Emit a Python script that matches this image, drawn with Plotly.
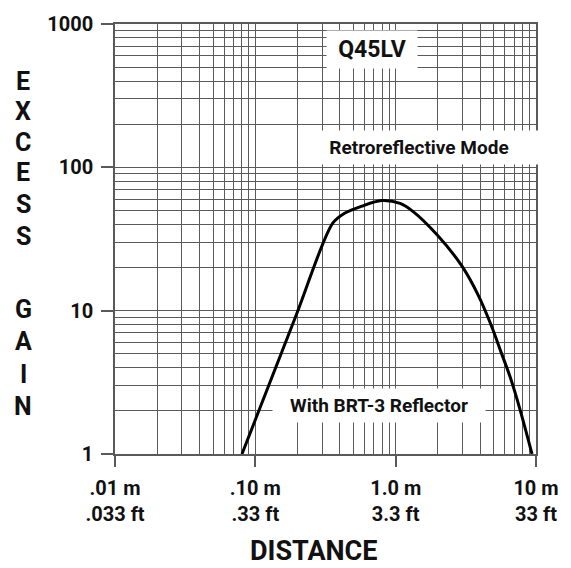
import plotly.graph_objects as go

# Data (distance in m, excess gain)
distance_m = [0.0803, 0.1938, 0.3562, 0.4318, 0.5672, 0.794, 1.076, 1.326,
              1.979, 2.954, 3.88, 4.78, 5.61, 6.58, 7.73, 9.37]
excess_gain = [1.0, 9.1, 40.8, 47.8, 53.4, 58.7, 56.0, 49.3,
               33.7, 20.6, 12.8, 7.97, 5.20, 3.39, 2.01, 1.0]

x_tickvals = [0.01, 0.1, 1, 10]
x_ticktext = [".01 m<br>.033 ft", ".10 m<br>.33 ft", "1.0 m<br>3.3 ft", "10 m<br>33 ft"]
y_tickvals = [1, 10, 100, 1000]
y_ticktext = ["1", "10", "100", "1000"]

x_minor = [m * 10 ** e for e in (-2, -1, 0) for m in range(2, 10)]
y_minor = [m * 10 ** e for e in (0, 1, 2) for m in range(2, 10)]

y_title_letters = ["E", "X", "C", "E", "S", "S", "G", "A", "I", "N"]

FONT = "Roboto, Liberation Sans, sans-serif"
GRID = "#5a5a5a"
TXT = "#111111"

fig = go.Figure()
fig.add_trace(go.Scatter(
    x=distance_m, y=excess_gain, mode="lines",
    line=dict(color="black", width=3, shape="spline", smoothing=0.9),
    hoverinfo="skip", showlegend=False,
))

axis_common = dict(
    type="log", showline=True, linecolor=GRID, linewidth=1.5, mirror=True,
    showgrid=True, gridcolor=GRID, gridwidth=1.3,
    ticks="outside", tickcolor=GRID, tickwidth=1.5,
    tickfont=dict(family=FONT, size=20, color=TXT, weight="bold"),
    zeroline=False,
)

fig.update_xaxes(
    **axis_common, range=[-2, 1], tickmode="array", tickvals=x_tickvals, ticktext=x_ticktext,
    ticklen=11, ticklabelstandoff=4,
    minor=dict(tickmode="array", tickvals=x_minor, showgrid=True, gridcolor=GRID, gridwidth=1.3, ticks=""),
)
fig.update_yaxes(
    **axis_common, range=[0, 3], tickmode="array", tickvals=y_tickvals, ticktext=y_ticktext,
    ticklen=12, ticklabelstandoff=4,
    minor=dict(tickmode="array", tickvals=y_minor, showgrid=True, gridcolor=GRID, gridwidth=1.3, ticks=""),
)

annos = []
# y-axis title as stacked letters
y_positions = [76, 107, 138, 169, 201, 233, 307, 340, 373, 406]
for letter, yp in zip(y_title_letters, y_positions):
    annos.append(dict(text=letter, xref="paper", yref="paper",
                      x=(21 - 115) / 431, y=1 - (yp - 18) / 436,
                      xanchor="center", yanchor="middle", showarrow=False,
                      font=dict(family=FONT, size=25, color=TXT, weight="bold")))

annos.append(dict(text="DISTANCE", xref="paper", yref="paper",
                  x=(318 - 115) / 431, y=1 - (552 - 18) / 436,
                  xanchor="center", yanchor="middle", showarrow=False,
                  font=dict(family=FONT, size=27, color=TXT, weight="bold")))

boxes = [
    ("Q45LV", 378, 43.5, 90, 37, 23),
    ("Retroreflective Mode", 426, 143.5, 240, 33, 19),
    ("With BRT-3 Reflector", 385, 404.5, 212, 33, 19),
]
for txt, cx, cy, w, h, fs in boxes:
    annos.append(dict(text=txt, xref="paper", yref="paper",
                      x=(cx - 115) / 431, y=1 - (cy - 18) / 436,
                      xanchor="center", yanchor="middle", showarrow=False,
                      width=w, height=h, bgcolor="white", borderpad=0,
                      font=dict(family=FONT, size=fs, color=TXT, weight="bold")))

fig.update_layout(
    width=571, height=568,
    margin=dict(l=115, r=25, t=18, b=114),
    paper_bgcolor="white", plot_bgcolor="white",
    font=dict(family=FONT, color=TXT),
    annotations=annos,
)

fig.write_html("out.html")
